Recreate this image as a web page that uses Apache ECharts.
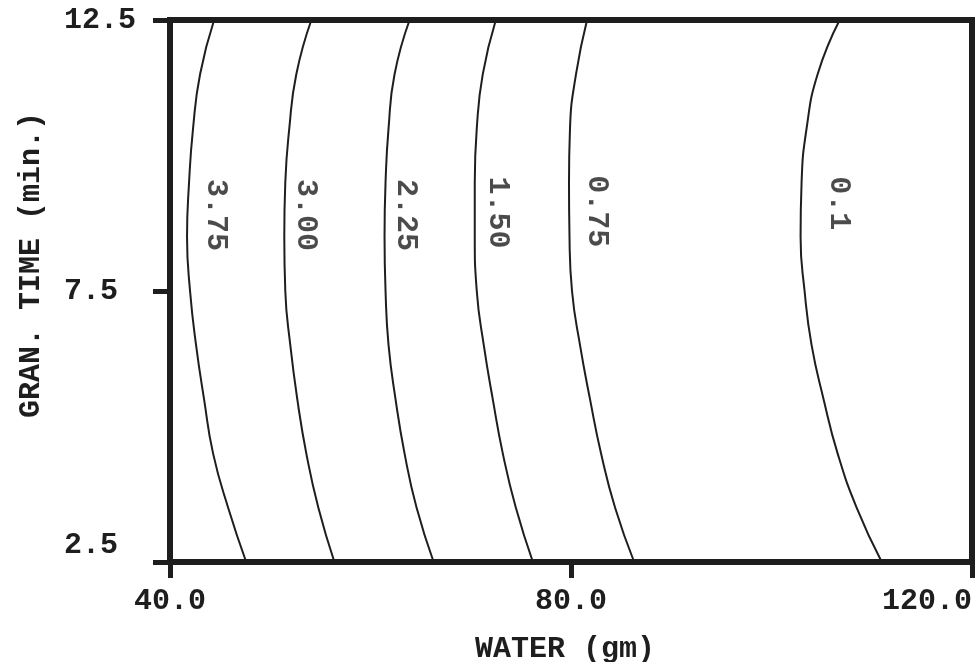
<!DOCTYPE html>
<html><head><meta charset="utf-8">
<script src="https://cdn.jsdelivr.net/npm/echarts@6/dist/echarts.min.js"></script>
<style>html,body{margin:0;padding:0;background:#fff}#c{width:977px;height:662px}</style>
</head><body><div id="c"></div>
<script>
// Contour levels and their curves (x = WATER gm, y = GRAN. TIME min.)
const levels = ['3.75', '3.00', '2.25', '1.50', '0.75', '0.1'];
const curveY = [12.5, 11.5, 10.5, 9.5, 8.5, 7.5, 6.5, 5.5, 4.5, 3.5, 2.5];
const curve375 = [44.4, 43.0, 42.3, 41.9, 41.7, 42.0, 42.6, 43.4, 44.3, 45.8, 47.6];
const curve300 = [54.1, 52.6, 51.9, 51.5, 51.4, 51.5, 52.0, 52.7, 53.6, 54.8, 56.4];
const curve225 = [63.9, 62.4, 61.8, 61.5, 61.4, 61.5, 61.8, 62.5, 63.4, 64.6, 66.3];
const curve150 = [72.5, 71.2, 70.6, 70.4, 70.4, 70.6, 71.3, 72.2, 73.2, 74.5, 76.2];
const curve075 = [81.6, 80.5, 79.9, 79.8, 79.85, 80.1, 80.9, 81.9, 83.0, 84.4, 86.3];
const curve010 = [106.8, 104.6, 103.5, 103.0, 102.9, 103.3, 104.0, 105.2, 106.6, 108.5, 111.0];
const curves = [curve375, curve300, curve225, curve150, curve075, curve010];
// Contour label positions (data coords)
const labelX = [44.5, 53.5, 63.5, 72.7, 82.5, 106.7];
const labelY = [8.9, 8.9, 8.9, 8.95, 8.97, 9.12];
const xTicks = [40, 80, 120];
const yTicks = [2.5, 7.5, 12.5];

const font = '"Liberation Mono", "DejaVu Sans Mono", monospace';
const ink = '#1e1e1e';

const series = curves.map((c, i) => ({
  type: 'line', smooth: 0.5, symbol: 'none', silent: true,
  lineStyle: { color: ink, width: 2 },
  data: c.map((x, j) => [x, curveY[j]])
}));
series.push({
  type: 'scatter', symbolSize: 0, silent: true,
  data: levels.map((l, i) => ({ name: l, value: [labelX[i], labelY[i]] })),
  label: {
    show: true, position: 'inside', rotate: -90,
    formatter: p => p.name,
    fontFamily: font, fontWeight: 'bold', fontSize: 30, color: ink
  }
});

const chart = echarts.init(document.getElementById('c'), null, { renderer: 'canvas' });
chart.setOption({
  animation: false,
  backgroundColor: '#fff',
  grid: { left: 170, right: 5, top: 20, bottom: 100, containLabel: false, outerBoundsMode: 'none',
    show: true, borderColor: ink, borderWidth: 6, backgroundColor: 'transparent' },
  xAxis: {
    type: 'value', min: xTicks[0], max: xTicks[xTicks.length - 1], interval: 40,
    name: 'WATER (gm)', nameLocation: 'middle', nameGap: 72,
    nameTextStyle: { fontFamily: font, fontWeight: 'bold', fontSize: 30, color: ink, padding: [0, 12, 0, 0] },
    axisLine: { show: false },
    axisTick: { show: true, length: 16, lineStyle: { color: ink, width: 5 } },
    splitLine: { show: false },
    axisLabel: { margin: 24, fontFamily: font, fontWeight: 'bold', fontSize: 30, color: ink,
      formatter: v => v.toFixed(1), alignMaxLabel: 'right' }
  },
  yAxis: {
    type: 'value', min: yTicks[0], max: yTicks[yTicks.length - 1], interval: 5,
    name: 'GRAN. TIME (min.)', nameLocation: 'middle', nameGap: 124,
    nameTextStyle: { fontFamily: font, fontWeight: 'bold', fontSize: 30, color: ink, padding: [0, 0, 0, 52] },
    axisLine: { show: false },
    axisTick: { show: true, length: 17, lineStyle: { color: ink, width: 5 } },
    splitLine: { show: false },
    axisLabel: { margin: 106, align: 'left', fontFamily: font, fontWeight: 'bold', fontSize: 30, color: ink,
      formatter: v => v === yTicks[0] ? '{low|' + v.toFixed(1) + '}' : v.toFixed(1),
      rich: { low: { fontFamily: font, fontWeight: 'bold', fontSize: 30, color: ink, padding: [0, 0, 34, 0] } } }
  },
  series: series
});
</script></body></html>
